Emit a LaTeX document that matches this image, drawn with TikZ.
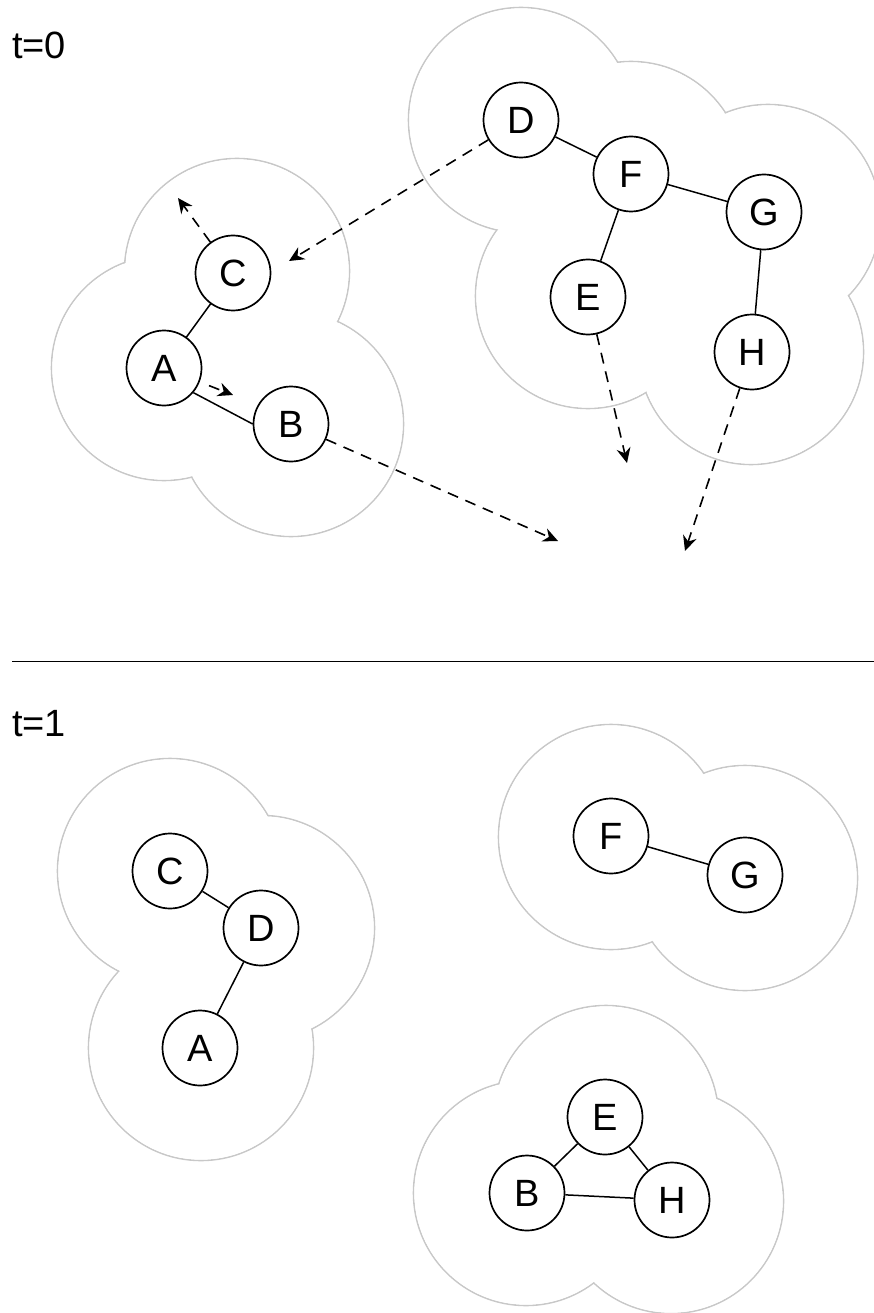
\documentclass[tikz,border=0pt]{standalone}
\usepackage{fontspec}
\setmainfont{Liberation Sans}
\usetikzlibrary{arrows.meta}
\definecolor{cloudgray}{RGB}{200,200,200}
\tikzset{
  vtx/.style={circle, draw=black, line width=1.7pt, fill=white, minimum size=75pt, inner sep=0pt, font=\fontsize{38}{42}\selectfont},
  link/.style={line width=1.5pt},
  move/.style={line width=1.6pt, dash pattern=on 11pt off 8pt, -{Stealth[length=15pt,width=14pt,inset=5pt]}},
  cloudline/.style={draw=cloudgray, line width=1.6pt},
  lbl/.style={anchor=base west, inner sep=0pt, font=\fontsize{38}{42}\selectfont},
  sep/.style={line width=1.6pt},
}
\newcommand{\drawblob}[1]{%
  \foreach \cx/\cy in {#1} {\draw[cloudline] (\cx,\cy) circle[radius=112.5pt];}
  \foreach \cx/\cy in {#1} {\fill[white] (\cx,\cy) circle[radius=111.7pt];}
}
\begin{document}
\begin{tikzpicture}[x=1pt,y=-1pt]
\useasboundingbox (0,0) rectangle (874,1313);
\fill[white] (0,0) rectangle (874,1313);
% clouds
\drawblob{164/368, 291/424, 237/271}
\drawblob{521/120, 631/174, 768/217, 588/296, 751/352}
\drawblob{170/871, 262/928, 201/1048}
\drawblob{611/837, 745/878}
\drawblob{606/1118, 526/1193, 671/1201}
% separator and labels
\coordinate (sepL) at (12,661.5);
\coordinate (sepR) at (874,661.5);
\draw[sep] (sepL) -- (sepR);
\node[lbl] (t0) at (12,59) {t=0};
\node[lbl] (t1) at (12,736) {t=1};
% t=0 nodes
\node[vtx] (A) at (164,368) {A};
\node[vtx] (B) at (291,424) {B};
\node[vtx] (C) at (233,273) {C};
\node[vtx] (D) at (521,120) {D};
\node[vtx] (F) at (631,174) {F};
\node[vtx] (G) at (764,212) {G};
\node[vtx] (E) at (588,297) {E};
\node[vtx] (H) at (752,352) {H};
\draw[link] (C) -- (A);
\draw[link] (A.-40) -- (B.180);
\draw[link] (D) -- (F);
\draw[link] (F) -- (G);
\draw[link] (F) -- (E);
\draw[link] (G) -- (H);
% movement arrows
\coordinate (tC) at (178,198);
\coordinate (tA) at (233,395);
\coordinate (tB) at (558,541);
\coordinate (tD) at (289,261);
\coordinate (tE) at (627,463);
\coordinate (tH) at (685,551);
\draw[move] (C) -- (tC);
\draw[move, shorten <=10pt] (A) -- (tA);
\draw[move] (B) -- (tB);
\draw[move] (D) -- (tD);
\draw[move] (E) -- (tE);
\draw[move] (H) -- (tH);
% t=1 nodes
\node[vtx] (C2) at (170,871) {C};
\node[vtx] (D2) at (261,928) {D};
\node[vtx] (A2) at (200,1048) {A};
\node[vtx] (F2) at (611,836) {F};
\node[vtx] (G2) at (745,875) {G};
\node[vtx] (E2) at (605,1117) {E};
\node[vtx] (B2) at (527,1193) {B};
\node[vtx] (H2) at (672,1200) {H};
\draw[link] (C2) -- (D2);
\draw[link] (D2) -- (A2);
\draw[link] (F2) -- (G2);
\draw[link] (E2) -- (B2);
\draw[link] (E2) -- (H2);
\draw[link] (B2) -- (H2);
\end{tikzpicture}
\end{document}
